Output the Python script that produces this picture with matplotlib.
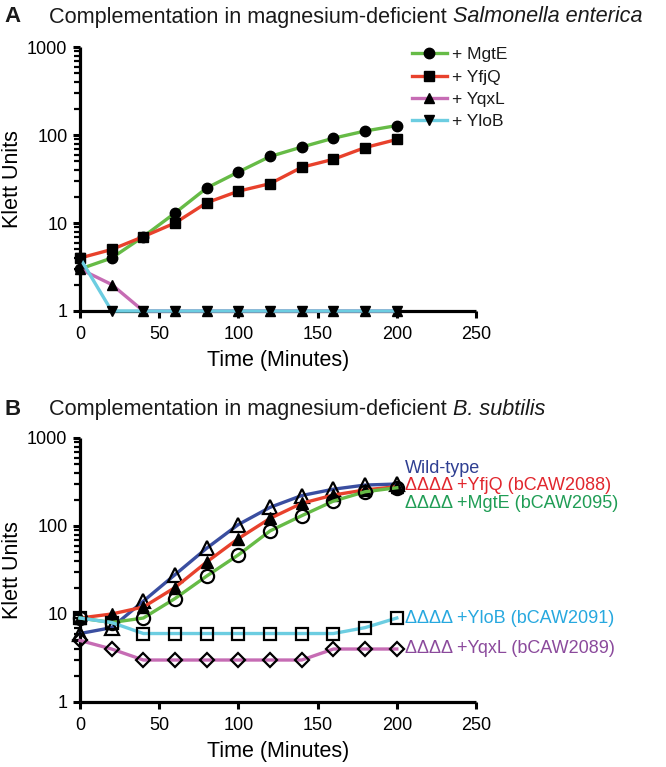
import matplotlib
matplotlib.use("Agg")
import matplotlib.pyplot as plt
import numpy as np

plt.rcParams['font.family'] = ['Liberation Sans', 'DejaVu Sans']
plt.rcParams['text.color'] = '#1a1a1a'

# ---- panel A data (Salmonella enterica) ----
time_a = [0, 20, 40, 60, 80, 100, 120, 140, 160, 180, 200]
mgte_a = [3, 4, 7, 13, 25, 38, 57, 73, 92, 111, 128]
yfjq_a = [4, 5, 7, 10, 17, 23, 28, 43, 53, 72, 89]
yqxl_a = [3, 2, 1, 1, 1, 1, 1, 1, 1, 1, 1]
ylob_a = [4, 1, 1, 1, 1, 1, 1, 1, 1, 1, 1]

# ---- panel B data (B. subtilis) ----
time_b = [0, 20, 40, 60, 80, 100, 120, 140, 160, 180, 200]
wt_b = [6, 7, 14, 28, 56, 104, 163, 222, 262, 292, 300]
yfjq_b = [9, 10, 12, 20, 39, 72, 122, 181, 225, 257, 280]
mgte_b = [9, 8, 9, 15, 27, 47, 88, 131, 192, 245, 272]
ylob_b = [9, 8, 6, 6, 6, 6, 6, 6, 6, 7, 9]
yqxl_b = [5, 4, 3, 3, 3, 3, 3, 3, 4, 4, 4]

labels_b = ['Wild-type', '\u0394\u0394\u0394\u0394 +YfjQ (bCAW2088)',
            '\u0394\u0394\u0394\u0394 +MgtE (bCAW2095)',
            '\u0394\u0394\u0394\u0394 +YloB (bCAW2091)',
            '\u0394\u0394\u0394\u0394 +YqxL (bCAW2089)']
label_y_b = [456, 292, 182, 9.0, 4.1]
label_colors_b = ['#2f3f92', '#e1262d', '#1f9d55', '#27a8df', '#8b4a9c']

W, H = 666, 767
fig = plt.figure(figsize=(W / 100, H / 100), dpi=100)


def px_axes(x0, x1, ytop, ybot):
    return fig.add_axes([x0 / W, 1 - ybot / H, (x1 - x0) / W, (ybot - ytop) / H])


def style_axes(ax):
    ax.set_yscale('log')
    ax.set_xlim(0, 250)
    ax.set_ylim(1, 1000)
    ax.set_xticks([0, 50, 100, 150, 200, 250])
    ax.set_yticks([1, 10, 100, 1000])
    ax.set_yticklabels(['1', '10', '100', '1000'])
    for s in ['top', 'right']:
        ax.spines[s].set_visible(False)
    for s in ['left', 'bottom']:
        ax.spines[s].set_linewidth(2.3)
        ax.spines[s].set_capstyle('butt')
    ax.tick_params(which='major', length=5, width=2.2, labelsize=13, pad=4, direction='out')
    ax.tick_params(axis='x', which='major', pad=6)
    ax.tick_params(which='minor', length=4, width=1.6, direction='out')
    ax.tick_params(axis='x', which='minor', bottom=False)
    ax.set_xlabel('Time (Minutes)', fontsize=15.5, labelpad=5)
    ax.set_ylabel('Klett Units', fontsize=15.5, va='center')
    ax.yaxis.set_label_coords(-67 / 396, 0.5)


# ---------- panel A ----------
axa = px_axes(80, 476, 47, 311)
style_axes(axa)
lw = 2.4
axa.plot(time_a, mgte_a, color='#66bb46', lw=lw, marker='o', ms=7.5, mfc='black', mec='black', label='+ MgtE', clip_on=False, zorder=3)
axa.plot(time_a, yfjq_a, color='#e8412c', lw=lw, marker='s', ms=7, mfc='black', mec='black', label='+ YfjQ', clip_on=False, zorder=3)
axa.plot(time_a, yqxl_a, color='#c66cb4', lw=lw, marker='^', ms=7.5, mfc='black', mec='black', label='+ YqxL', clip_on=False, zorder=3)
axa.plot(time_a, ylob_a, color='#6ccde1', lw=lw, marker='v', ms=7.5, mfc='black', mec='black', label='+ YloB', clip_on=False, zorder=3)
leg = axa.legend(loc='upper left', bbox_to_anchor=(412 / W, 1 - 47 / H), bbox_transform=fig.transFigure,
                 frameon=False, fontsize=12.5, handlelength=2.0, handletextpad=0.3, labelspacing=0.42,
                 borderpad=0, borderaxespad=0)

# ---------- panel B ----------
axb = px_axes(80, 476, 438, 702)
style_axes(axb)
mew = 1.6
axb.plot(time_b, wt_b, color='#3a4ea0', lw=lw, marker='^', ms=9.5, mfc='none', mec='black', mew=mew, clip_on=False, zorder=3)
axb.plot(time_b, yfjq_b, color='#e8412c', lw=lw, marker='^', ms=8, mfc='black', mec='black', clip_on=False, zorder=3)
axb.plot(time_b, mgte_b, color='#66bb46', lw=lw, marker='o', ms=9.5, mfc='none', mec='black', mew=mew, clip_on=False, zorder=3)
axb.plot(time_b, ylob_b, color='#6ccde1', lw=lw, marker='s', ms=9, mfc='none', mec='black', mew=mew, clip_on=False, zorder=3)
axb.plot(time_b, yqxl_b, color='#c66cb4', lw=lw, marker='D', ms=7, mfc='none', mec='black', mew=mew, clip_on=False, zorder=3)
for txt, yv, c in zip(labels_b, label_y_b, label_colors_b):
    axb.text(205, yv, txt, color=c, fontsize=13, va='center', ha='left', clip_on=False)

# ---------- titles ----------
renderer = fig.canvas.get_renderer()


def title_line(ypx, letter, plain, ital):
    fig.text(4 / W, 1 - ypx / H, letter, fontsize=16, fontweight='bold', va='center', ha='left')
    t = fig.text(49 / W, 1 - ypx / H, plain, fontsize=15.6, va='center', ha='left')
    bb = t.get_window_extent(renderer)
    fig.text(bb.x1 / W, 1 - ypx / H, ital, fontsize=15.6, style='italic', va='center', ha='left')


title_line(17, 'A', 'Complementation in magnesium-deficient ', 'Salmonella enterica')
title_line(410, 'B', 'Complementation in magnesium-deficient ', 'B. subtilis')

fig.savefig('out.png', dpi=100)
